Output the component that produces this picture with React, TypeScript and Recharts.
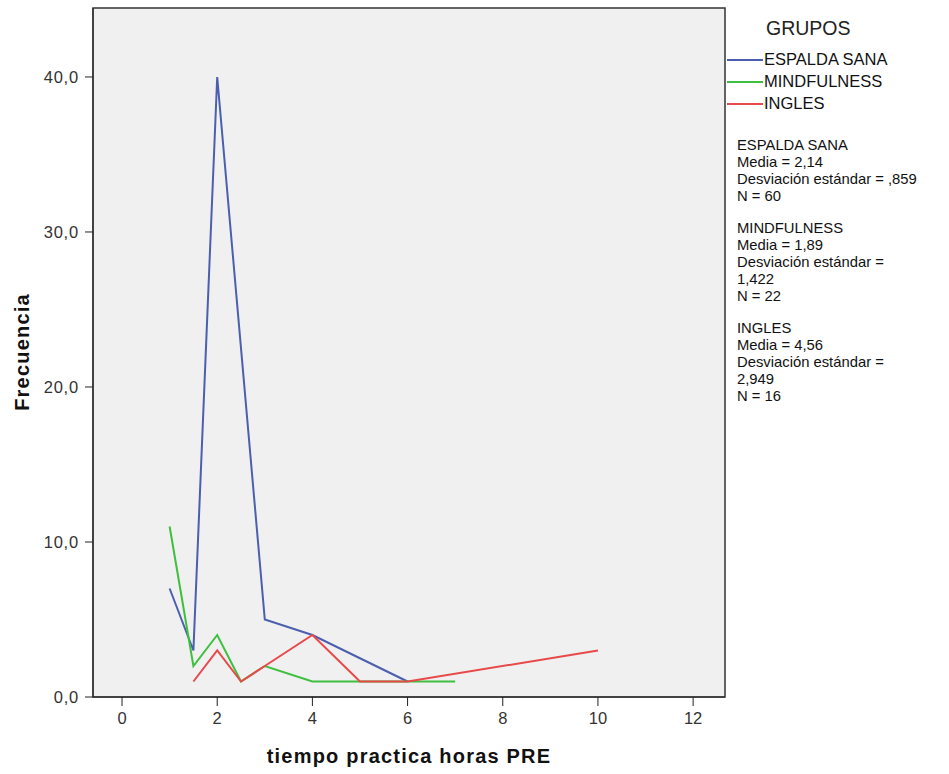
import { LineChart, Line, XAxis, YAxis, CartesianGrid, ReferenceArea } from "recharts";

// frequency of practice hours (PRE) per group
const espaldaSana = [
  { x: 1, y: 7 },
  { x: 1.5, y: 3 },
  { x: 2, y: 40 },
  { x: 3, y: 5 },
  { x: 4, y: 4 },
  { x: 6, y: 1 },
];
const mindfulness = [
  { x: 1, y: 11 },
  { x: 1.5, y: 2 },
  { x: 2, y: 4 },
  { x: 2.5, y: 1 },
  { x: 3, y: 2 },
  { x: 4, y: 1 },
  { x: 7, y: 1 },
];
const ingles = [
  { x: 1.5, y: 1 },
  { x: 2, y: 3 },
  { x: 2.5, y: 1 },
  { x: 3, y: 2 },
  { x: 4, y: 4 },
  { x: 5, y: 1 },
  { x: 6, y: 1 },
  { x: 10, y: 3 },
];

const xTicks = [0, 2, 4, 6, 8, 10, 12];
const yTicks = [0, 10, 20, 30, 40];

const groups = [
  { name: "ESPALDA SANA", color: "#4b5fae" },
  { name: "MINDFULNESS", color: "#3fbf3f" },
  { name: "INGLES", color: "#e8494a" },
];

const stats = [
  ["ESPALDA SANA", "Media = 2,14", "Desviación estándar = ,859", "N = 60"],
  ["MINDFULNESS", "Media = 1,89", "Desviación estándar =", "1,422", "N = 22"],
  ["INGLES", "Media = 4,56", "Desviación estándar =", "2,949", "N = 16"],
];

const FONT = "'Liberation Sans', Arial, sans-serif";
const X_MIN = -0.61;
const X_MAX = 12.67;
const Y_MAX = 44.45;

const fmt = (v: number) => v.toFixed(1).replace(".", ",");

export default function App() {
  return (
    <div style={{ position: "absolute", left: 0, top: 0, width: 949, height: 774, background: "#fff", fontFamily: FONT }}>
      <LineChart width={949} height={774} margin={{ top: 8, right: 224, bottom: 0, left: 0 }}>
        <CartesianGrid fill="#f0f0f0" horizontal={false} vertical={false} />
        <XAxis
          type="number"
          dataKey="x"
          domain={[X_MIN, X_MAX]}
          ticks={xTicks}
          allowDataOverflow
          height={77}
          tickSize={9}
          tickMargin={6}
          stroke="#222"
          tick={{ fill: "#333", fontSize: 16.5, fontFamily: FONT }}
          label={{
            value: "tiempo practica horas PRE",
            position: "insideBottom",
            offset: 11,
            style: { fontFamily: FONT, fontSize: 20, fontWeight: "bold", fill: "#111", letterSpacing: 1.2 },
          }}
        />
        <YAxis
          type="number"
          domain={[0, Y_MAX]}
          ticks={yTicks}
          allowDataOverflow
          width={93}
          tickSize={8}
          tickMargin={6}
          stroke="#222"
          tickFormatter={fmt}
          tick={{ fill: "#333", fontSize: 16.5, fontFamily: FONT, letterSpacing: 0.8 }}
          label={{
            value: "Frecuencia",
            content: () => (
              <text
                x={22}
                y={352}
                transform="rotate(-90 22 352)"
                textAnchor="middle"
                dominantBaseline="central"
                style={{ fontFamily: FONT, fontSize: 20, fontWeight: "bold", fill: "#111", letterSpacing: 1.2 }}
              >
                Frecuencia
              </text>
            ),
          }}
        />
        <ReferenceArea x1={X_MIN} x2={X_MAX} y1={0} y2={Y_MAX} fill="none" stroke="#333" strokeWidth={1.5} ifOverflow="visible" />
        <Line data={espaldaSana} dataKey="y" stroke={groups[0].color} strokeWidth={2} dot={false} isAnimationActive={false} />
        <Line data={mindfulness} dataKey="y" stroke={groups[1].color} strokeWidth={2} dot={false} isAnimationActive={false} />
        <Line data={ingles} dataKey="y" stroke={groups[2].color} strokeWidth={2} dot={false} isAnimationActive={false} />
      </LineChart>

      <div style={{ position: "absolute", left: 766, top: 17, fontSize: 19.5, color: "#222" }}>GRUPOS</div>
      {groups.map((g, i) => (
        <div key={g.name} style={{ position: "absolute", left: 727, top: 50 + i * 22, display: "flex", alignItems: "center", fontSize: 16.5, color: "#111" }}>
          <span style={{ display: "inline-block", width: 36, height: 2, background: g.color, marginRight: 1 }} />
          <span>{g.name}</span>
        </div>
      ))}

      <div style={{ position: "absolute", left: 737, top: 137, fontSize: 14.8, lineHeight: "17px", color: "#111" }}>
        {stats.map((block, i) => (
          <div key={i} style={{ marginBottom: 15 }}>
            {block.map((line, j) => (
              <div key={j}>{line}</div>
            ))}
          </div>
        ))}
      </div>
    </div>
  );
}
